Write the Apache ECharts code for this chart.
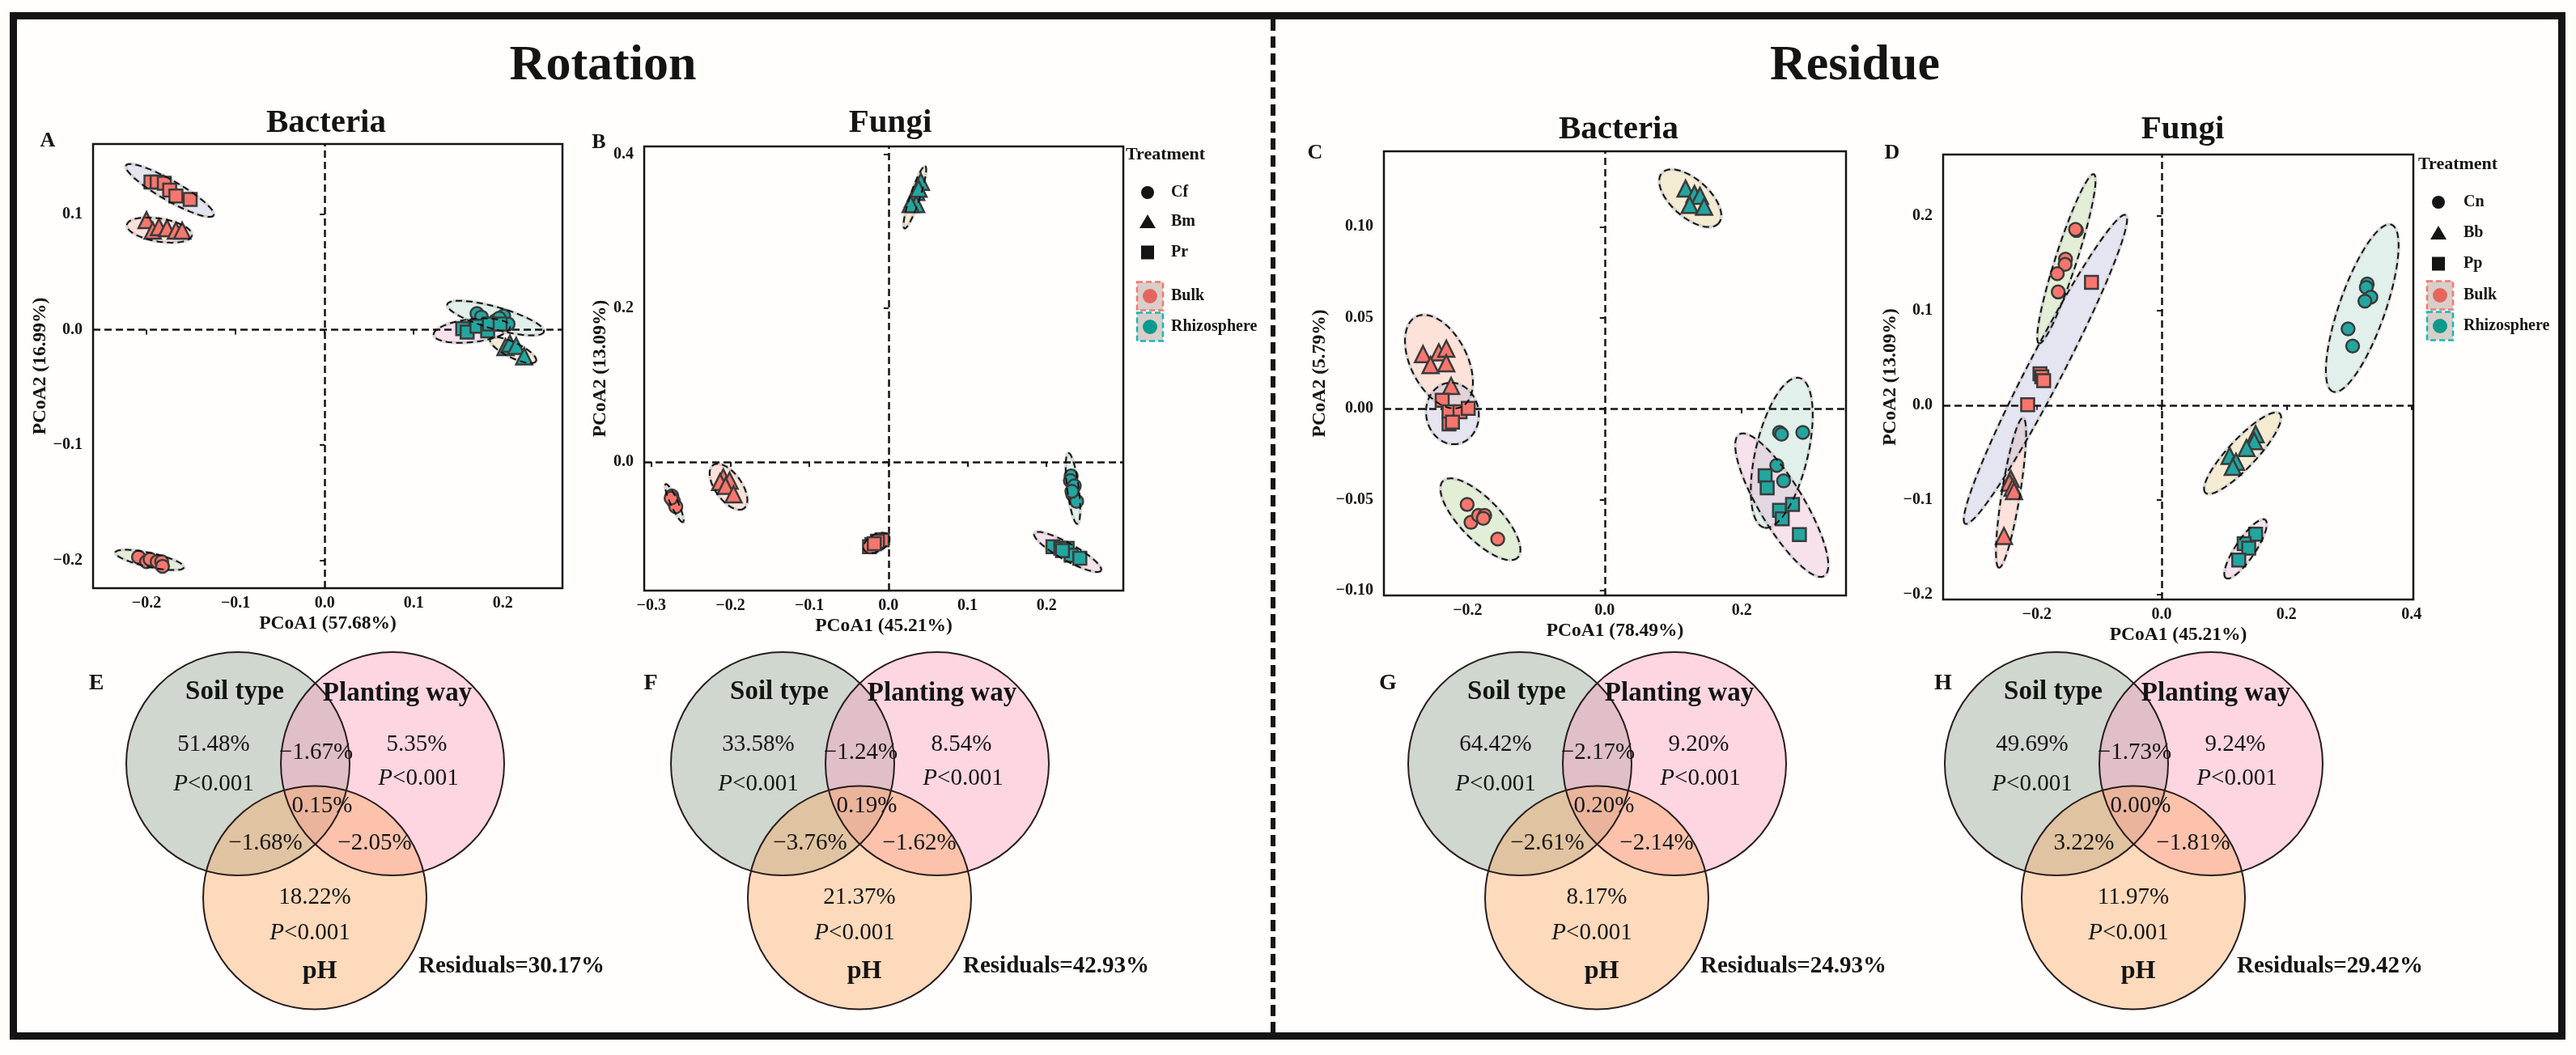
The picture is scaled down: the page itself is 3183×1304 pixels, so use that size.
<!DOCTYPE html>
<html><head><meta charset="utf-8">
<script src="https://cdn.jsdelivr.net/npm/echarts@6/dist/echarts.min.js"></script>
<style>html,body{margin:0;padding:0;background:#fff}#c{width:3183px;height:1304px}</style>
</head><body><div id="c"></div>
<script>
// ---------------- DATA ----------------
// Panel A : Rotation / Bacteria
const A_bulk_Cf  = [[-0.209,-0.197],[-0.200,-0.201],[-0.196,-0.199],[-0.188,-0.201],[-0.183,-0.201],[-0.182,-0.205]];
const A_bulk_Bm  = [[-0.200,0.095],[-0.193,0.086],[-0.186,0.089],[-0.177,0.088],[-0.167,0.086],[-0.160,0.086]];
const A_bulk_Pr  = [[-0.195,0.128],[-0.188,0.128],[-0.180,0.127],[-0.174,0.121],[-0.167,0.116],[-0.151,0.113]];
const A_rhizo_Cf = [[0.171,0.014],[0.176,0.011],[0.192,0.008],[0.201,0.012],[0.206,0.005],[0.196,0.010]];
const A_rhizo_Bm = [[0.203,-0.015],[0.208,-0.012],[0.215,-0.014],[0.224,-0.023]];
const A_rhizo_Pr = [[0.155,0.001],[0.160,-0.002],[0.171,0.003],[0.183,-0.001],[0.185,0.005],[0.197,0.005]];
// ellipses: [x1,y1,x2,y2 (major axis ends), minor/major ratio] order: bulk Cf,Bm,Pr, rhizo Cf,Bm,Pr
const A_ellipses = [
  [-0.235,-0.193,-0.158,-0.206,0.2],
  [-0.222,0.091,-0.149,0.0818,0.35],
  [-0.223,0.1424,-0.1247,0.0991,0.2],
  [0.1377,0.022,0.2461,-0.0018,0.22],
  [0.1859,-0.0081,0.2373,-0.0272,0.3],
  [0.1224,-0.0044,0.2081,0.0029,0.3]
];
const A_xticks = [-0.2,-0.1,0,0.1,0.2];
const A_yticks = [-0.2,-0.1,0,0.1];

// Panel B : Rotation / Fungi
const B_bulk_Cf  = [[-0.274,-0.044],[-0.272,-0.051],[-0.269,-0.058],[-0.275,-0.047]];
const B_bulk_Bm  = [[-0.209,-0.020],[-0.213,-0.026],[-0.201,-0.024],[-0.206,-0.031],[-0.196,-0.042]];
const B_bulk_Pr  = [[-0.021,-0.107],[-0.008,-0.101],[-0.014,-0.103],[-0.024,-0.110],[-0.018,-0.106]];
const B_rhizo_Cf = [[0.231,-0.018],[0.230,-0.024],[0.235,-0.031],[0.233,-0.042],[0.238,-0.051],[0.232,-0.038]];
const B_rhizo_Bm = [[0.041,0.364],[0.035,0.351],[0.031,0.342],[0.035,0.335],[0.028,0.335],[0.038,0.355]];
const B_rhizo_Pr = [[0.208,-0.110],[0.218,-0.112],[0.226,-0.112],[0.231,-0.121],[0.242,-0.125],[0.220,-0.115]];
const B_ellipses = [
  [-0.2818,-0.0287,-0.2599,-0.0781,0.18],
  [-0.2219,-0.004,-0.1828,-0.0602,0.5],
  [-0.0307,-0.114,0.0005,-0.0961,0.6],
  [0.2276,0.0117,0.239,-0.0804,0.16],
  [0.0203,0.3035,0.0464,0.3843,0.15],
  [0.1844,-0.0925,0.2688,-0.141,0.22]
];
const B_xticks = [-0.3,-0.2,-0.1,0,0.1,0.2];
const B_yticks = [0,0.2,0.4];

// Panel C : Residue / Bacteria
const C_bulk_Cf  = [[-0.2006,-0.0527],[-0.195,-0.0625],[-0.184,-0.0587],[-0.175,-0.0587],[-0.177,-0.0603],[-0.156,-0.0717]];
const C_bulk_Bm  = [[-0.265,0.030],[-0.242,0.031],[-0.231,0.033],[-0.254,0.024],[-0.231,0.025],[-0.224,0.0125]];
const C_bulk_Pr  = [[-0.237,0.0046],[-0.227,-0.0017],[-0.211,-0.0017],[-0.199,0.0002],[-0.227,-0.0084],[-0.222,-0.0074]];
const C_rhizo_Cf = [[0.255,-0.0131],[0.258,-0.0141],[0.289,-0.0131],[0.251,-0.0312],[0.261,-0.0397]];
const C_rhizo_Bm = [[0.118,0.121],[0.131,0.118],[0.139,0.117],[0.124,0.112],[0.145,0.111]];
const C_rhizo_Pr = [[0.234,-0.0369],[0.237,-0.0435],[0.255,-0.0559],[0.274,-0.0527],[0.259,-0.0606],[0.284,-0.0692]];
const C_ellipses = [
  [-0.2356,-0.0397,-0.1269,-0.0819,0.38],
  [-0.2749,0.0506,-0.2085,0.0011,0.56],
  [-0.2296,0.0141,-0.2145,-0.0194,0.85],
  [0.284,0.0169,0.2326,-0.0654,0.34],
  [0.0834,0.1295,0.1662,0.1019,0.5],
  [0.1964,-0.0141,0.3202,-0.092,0.27]
];
const C_xticks = [-0.2,0,0.2];
const C_yticks = [-0.1,-0.05,0,0.05,0.1];

// Panel D : Residue / Fungi
const D_bulk_Cn  = [[-0.1365,0.1847],[-0.138,0.1858],[-0.154,0.1544],[-0.1547,0.1489],[-0.1672,0.139],[-0.1657,0.1197]];
const D_bulk_Bb  = [[-0.2416,-0.0781],[-0.2438,-0.0818],[-0.2387,-0.0872],[-0.2365,-0.0909],[-0.2526,-0.1383]];
const D_bulk_Pp  = [[-0.1124,0.1299],[-0.1949,0.0332],[-0.192,0.030],[-0.189,0.0259],[-0.2146,0.0004]];
const D_rhizo_Cn = [[0.3292,0.1281],[0.3277,0.1245],[0.335,0.1142],[0.3255,0.1099],[0.2985,0.0807],[0.3058,0.0624]];
const D_rhizo_Bb = [[0.1504,-0.0307],[0.1482,-0.038],[0.1358,-0.0453],[0.1088,-0.0536],[0.119,-0.0599],[0.1139,-0.0653]];
const D_rhizo_Pp = [[0.1504,-0.1365],[0.1321,-0.1464],[0.1394,-0.1511],[0.1234,-0.1639]];
const D_ellipses = [
  [-0.1088,0.2442,-0.1964,0.0653,0.12],
  [-0.2219,-0.0135,-0.2606,-0.1719,0.12],
  [-0.0577,0.2011,-0.3146,-0.1255,0.1],
  [0.3679,0.1909,0.2745,0.0142,0.26],
  [0.189,-0.0088,0.0701,-0.0927,0.26],
  [0.1657,-0.1212,0.1029,-0.1828,0.28]
];
const D_xticks = [-0.2,0,0.2,0.4];
const D_yticks = [-0.2,-0.1,0,0.1,0.2];

// axis ranges
const A_range = [-0.26,0.267,-0.224,0.161];
const B_range = [-0.309,0.297,-0.167,0.41];
const C_range = [-0.322,0.352,-0.1027,0.1415];
const D_range = [-0.35,0.403,-0.2055,0.265];

// Venn (variance partitioning): soil, planting, pH, soil∩plant, soil∩pH, plant∩pH, all three, residuals
const vennE = [51.48, 5.35, 18.22, -1.67, -1.68, -2.05, 0.15, 30.17];
const vennF = [33.58, 8.54, 21.37, -1.24, -3.76, -1.62, 0.19, 42.93];
const vennG = [64.42, 9.20, 8.17, -2.17, -2.61, -2.14, 0.20, 24.93];
const vennH = [49.69, 9.24, 11.97, -1.73, 3.22, -1.81, 0.00, 29.42];
const vennP = 'P<0.001';

const legendRotation = ['Cf','Bm','Pr'];
const legendResidue  = ['Cn','Bb','Pp'];
const compartments   = ['Bulk','Rhizosphere'];

// ---------------- STYLE / LAYOUT ----------------
const FONT = "'Liberation Serif','Times New Roman',serif";
const INK = '#141414';
const COMP_COLOR = ['#F8766D', '#22A69F'];
const SYMBOLS = ['circle','triangle','rect'];
const SYM_SIZE = [16, 20, 16];
const ELL_FILL = ['rgba(162,202,128,0.3)','rgba(248,162,138,0.3)','rgba(165,172,215,0.3)',
                  'rgba(158,208,198,0.3)','rgba(218,192,115,0.3)','rgba(228,158,198,0.3)'];

const PANELS = [
  {box:[115,178,580,549], r:A_range, xt:A_xticks, yt:A_yticks, xd:1, yd:1, xname:'PCoA1 (57.68%)', yname:'PCoA2 (16.99%)', yGap:52,
   groups:[A_bulk_Cf,A_bulk_Bm,A_bulk_Pr,A_rhizo_Cf,A_rhizo_Bm,A_rhizo_Pr], ell:A_ellipses},
  {box:[796,181,592,549], r:B_range, xt:B_xticks, yt:B_yticks, xd:1, yd:1, xname:'PCoA1 (45.21%)', yname:'PCoA2 (13.09%)', yGap:41,
   groups:[B_bulk_Cf,B_bulk_Bm,B_bulk_Pr,B_rhizo_Cf,B_rhizo_Bm,B_rhizo_Pr], ell:B_ellipses},
  {box:[1710,187,571,549], r:C_range, xt:C_xticks, yt:C_yticks, xd:1, yd:2, xname:'PCoA1 (78.49%)', yname:'PCoA2 (5.79%)', yGap:67,
   groups:[C_bulk_Cf,C_bulk_Bm,C_bulk_Pr,C_rhizo_Cf,C_rhizo_Bm,C_rhizo_Pr], ell:C_ellipses},
  {box:[2401,191,581,550], r:D_range, xt:D_xticks, yt:D_yticks, xd:1, yd:1, xname:'PCoA1 (45.21%)', yname:'PCoA2 (13.09%)', yGap:50,
   groups:[D_bulk_Cn,D_bulk_Bb,D_bulk_Pp,D_rhizo_Cn,D_rhizo_Bb,D_rhizo_Pp], ell:D_ellipses}
];

const fmt = d => v => (v < -1e-9 ? '\u2212' : '') + Math.abs(v).toFixed(d);

function ellipsePoints(api, closed) {
  const p1 = api.coord([api.value(0), api.value(1)]);
  const p2 = api.coord([api.value(2), api.value(3)]);
  const ratio = api.value(4);
  const cx = (p1[0]+p2[0])/2, cy = (p1[1]+p2[1])/2;
  const dx = (p2[0]-p1[0])/2, dy = (p2[1]-p1[1])/2;
  const a = Math.hypot(dx, dy), ux = dx/a, uy = dy/a, b = a*ratio;
  const pts = [];
  const n = 90;
  for (let k = 0; k < (closed ? n+1 : n); k++) {
    const t = 2*Math.PI*k/n, c = Math.cos(t), s = Math.sin(t);
    pts.push([cx + a*c*ux - b*s*uy, cy + a*c*uy + b*s*ux]);
  }
  return pts;
}

const series = [];
PANELS.forEach((p, i) => {
  series.push({
    type:'custom', xAxisIndex:i, yAxisIndex:i, z:1, silent:true, data:p.ell,
    encode:{x:[0,2], y:[1,3]},
    renderItem:(params, api) => ({type:'polygon', shape:{points:ellipsePoints(api,false)},
      style:{fill:ELL_FILL[params.dataIndex], stroke:'rgba(190,190,190,0.55)', lineWidth:4}})
  });
  p.groups.forEach((pts, g) => {
    const s = {
      type:'scatter', xAxisIndex:i, yAxisIndex:i, data:pts, z:3, silent:true,
      symbol:SYMBOLS[g%3], symbolSize:SYM_SIZE[g%3],
      itemStyle:{color:COMP_COLOR[g<3?0:1], borderColor:'#3b3b3b', borderWidth:2.5, opacity:1},
      emphasis:{disabled:true}
    };
    if (g === 0) {
      s.markLine = {silent:true, symbol:'none', z:2, animation:false, label:{show:false},
        lineStyle:{color:INK, width:2.5, type:[9,5]}, emphasis:{disabled:true},
        data:[{xAxis:0},{yAxis:0}]};
    }
    series.push(s);
  });
  series.push({
    type:'custom', xAxisIndex:i, yAxisIndex:i, z:4, silent:true, data:p.ell,
    encode:{x:[0,2], y:[1,3]},
    renderItem:(params, api) => ({type:'polyline', shape:{points:ellipsePoints(api,true)},
      style:{fill:null, stroke:'#111', lineWidth:2, lineDash:[8,5]}})
  });
});

// ---------------- GRAPHIC (frame, titles, legends, Venns) ----------------
const G = [];
const txt = (text, x, y, size, weight, align, extra) => G.push({type:'text', z:20, silent:true,
  style:Object.assign({text, x, y, fill:INK, fontFamily:FONT, fontSize:size, fontWeight:weight||'normal',
    align:align||'center', verticalAlign:'middle', textAlign:align||'center', textVerticalAlign:'middle'}, extra||{})});

// outer frame and divider
G.push({type:'rect', z:20, silent:true, shape:{x:16.5, y:19.5, width:3149, height:1261}, style:{fill:'none', stroke:INK, lineWidth:9}});
G.push({type:'line', z:20, silent:true, shape:{x1:1573, y1:24, x2:1573, y2:1277}, style:{stroke:INK, lineWidth:6, lineDash:[14,7]}});

// big titles
txt('Rotation', 745, 82, 62, 'bold');
txt('Residue', 2292, 82, 62, 'bold');
// plot titles
txt('Bacteria', 403, 152, 41, 'bold');
txt('Fungi', 1100, 152, 41, 'bold');
txt('Bacteria', 2000, 160, 41, 'bold');
txt('Fungi', 2697, 160, 41, 'bold');
// panel letters
[['A',59,174],['B',740,176],['C',1625,189],['D',2338,189]].forEach(l => txt(l[0], l[1], l[2], 26, 'bold'));

// legends
function legend(x0, yT, symX, labX, ys, boxX, boxYs, names) {
  txt('Treatment', x0, yT, 22, 'bold', 'left');
  G.push({type:'circle', z:20, silent:true, shape:{cx:symX, cy:ys[0], r:8}, style:{fill:INK}});
  G.push({type:'polygon', z:20, silent:true, shape:{points:[[symX-10,ys[1]+8],[symX+10,ys[1]+8],[symX,ys[1]-9]]}, style:{fill:INK}});
  G.push({type:'rect', z:20, silent:true, shape:{x:symX-8, y:ys[2]-8.5, width:16, height:17}, style:{fill:INK}});
  names.forEach((n, k) => txt(n, labX, ys[k], 20, 'bold', 'left'));
  [['#F8766D','#E6665F'],['#14B9B3','#0B9A8C']].forEach((c, k) => {
    G.push({type:'rect', z:20, silent:true, shape:{x:boxX-16, y:boxYs[k]-17.5, width:32, height:35},
      style:{fill:'#D9CEC9', stroke:c[0], lineWidth:2.5, lineDash:[7,4]}});
    G.push({type:'circle', z:21, silent:true, shape:{cx:boxX, cy:boxYs[k], r:9}, style:{fill:c[1]}});
    txt(compartments[k], labX, boxYs[k], 20, 'bold', 'left');
  });
}
legend(1391, 191, 1418, 1447, [238,274,312], 1421, [366,404], legendRotation);
legend(2988, 203, 3013, 3044, [250,288,326], 3015, [365,403], legendResidue);

// Venns
const pct = v => (v < 0 ? '\u2212' : '') + Math.abs(v).toFixed(2) + '%';
const VENNS = [vennE, vennF, vennG, vennH];
const VENN_SX = [294, 967, 1878, 2541];
const VENN_LETTER = [['E',119,845],['F',804,845],['G',1715,845],['H',2401,845]];
const R = 138, Y = 944, HY = 1109.5;
const VFILL = ['rgba(135,158,138,0.4)','rgba(250,155,188,0.4)','rgba(250,165,92,0.4)'];
const pStyle = {rich:{i:{fontStyle:'italic', fontFamily:FONT, fontSize:29, fill:INK}}};
VENNS.forEach((v, k) => {
  const sx = VENN_SX[k], px = sx + 191, hx = sx + 95;
  const cs = [[sx,Y],[px,Y],[hx,HY]];
  cs.forEach((c, j) => G.push({type:'circle', z:15, silent:true, shape:{cx:c[0], cy:c[1], r:R}, style:{fill:VFILL[j]}}));
  cs.forEach(c => G.push({type:'circle', z:16, silent:true, shape:{cx:c[0], cy:c[1], r:R}, style:{fill:'none', stroke:'#2a1c1c', lineWidth:2}}));
  const L = VENN_LETTER[k];
  txt(L[0], L[1], L[2], 28, 'bold');
  txt('Soil type', sx - 4, Y - 89, 33, 'bold');
  txt('Planting way', px + 6, Y - 87, 33, 'bold');
  txt(pct(v[0]), sx - 30, Y - 24, 29);
  txt('{i|P}<0.001', sx - 30, Y + 25, 29, 'normal', 'center', pStyle);
  txt(pct(v[1]), px + 30, Y - 24, 29);
  txt('{i|P}<0.001', px + 32, Y + 18, 29, 'normal', 'center', pStyle);
  txt(pct(v[3]), (sx + px)/2 + 1, Y - 14, 29);
  txt(pct(v[6]), hx + 9, 996, 29);
  txt(pct(v[4]), hx - 61, 1042, 29);
  txt(pct(v[5]), hx + 74, 1042, 29);
  txt(pct(v[2]), hx, 1109, 29);
  txt('{i|P}<0.001', hx - 6, 1153, 29, 'normal', 'center', pStyle);
  txt('pH', hx + 6, 1201, 32, 'bold');
  txt('Residuals=' + v[7].toFixed(2) + '%', hx + 128, 1195, 29, 'bold', 'left');
});

// ---------------- OPTION ----------------
const axisNameStyle = {fontFamily:FONT, fontWeight:'bold', fontSize:23.5, color:INK};
const tickLabelStyle = {fontFamily:FONT, fontWeight:'bold', fontSize:20, color:INK};
const option = {
  backgroundColor:'#fffefc',
  animation:false,
  grid: PANELS.map(p => ({left:p.box[0], top:p.box[1], width:p.box[2], height:p.box[3], show:true,
    borderColor:INK, borderWidth:2.5, backgroundColor:'transparent'})),
  xAxis: PANELS.map((p, i) => ({
    type:'value', gridIndex:i, min:p.r[0], max:p.r[1], splitLine:{show:false}, axisLine:{show:false},
    axisTick:{show:true, customValues:p.xt, length:6, lineStyle:{color:INK, width:2}},
    axisLabel:Object.assign({show:true, customValues:p.xt, margin:9, formatter:fmt(p.xd)}, tickLabelStyle),
    name:p.xname, nameLocation:'middle', nameGap:32, nameTextStyle:axisNameStyle
  })),
  yAxis: PANELS.map((p, i) => ({
    type:'value', gridIndex:i, min:p.r[2], max:p.r[3], splitLine:{show:false}, axisLine:{show:false},
    axisTick:{show:true, customValues:p.yt, length:6, lineStyle:{color:INK, width:2}},
    axisLabel:Object.assign({show:true, customValues:p.yt, margin:13, formatter:fmt(p.yd)}, tickLabelStyle),
    name:p.yname, nameLocation:'middle', nameGap:p.yGap, nameRotate:90, nameTextStyle:axisNameStyle
  })),
  series: series,
  graphic: {elements: G}
};
const chart = echarts.init(document.getElementById('c'));
chart.setOption(option);
</script>
</body></html>
